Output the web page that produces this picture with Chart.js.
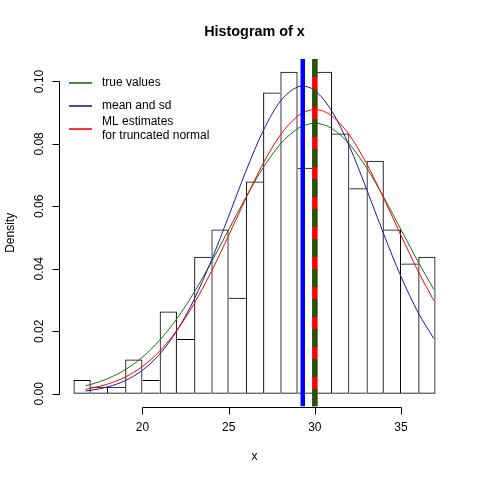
<!DOCTYPE html>
<html>
<head>
<meta charset="utf-8">
<title>Histogram of x</title>
<script src="https://cdn.jsdelivr.net/npm/chart.js@4.4.1/dist/chart.umd.min.js"></script>
<style>
  html, body { margin: 0; padding: 0; background: #fff; }
  #wrap { width: 480px; height: 480px; }
</style>
</head>
<body>
<div id="wrap"><canvas id="hist" width="480" height="480"></canvas></div>
<script>
// histogram: left edge of each bin (width 1) and its density
const binStart = [16, 17, 18, 19, 20, 21, 22, 23, 24, 25, 26, 27, 28, 29, 30, 31, 32, 33, 34, 35, 36];
const density  = [0.0044, 0.0022, 0.0022, 0.0110, 0.0044, 0.0263, 0.0175, 0.0439, 0.0526, 0.0307, 0.0680,
                  0.0965, 0.1031, 0.0724, 0.1031, 0.0833, 0.0658, 0.0746, 0.0526, 0.0417, 0.0439];

// the three density curves, read at these x positions
const curveX    = [16.7, 17, 18, 19, 20, 21, 22, 23, 24, 25, 26, 27, 28, 29, 29.3, 30, 31, 32, 33, 34, 35, 36, 36.9];
const trueCurve = [0.00252, 0.00295, 0.00486, 0.00770, 0.01172, 0.01714, 0.02408, 0.03250, 0.04216, 0.05253, 0.06288,
                   0.07234, 0.07994, 0.08489, 0.08575, 0.08660, 0.08489, 0.07994, 0.07234, 0.06288, 0.05253, 0.04216, 0.03342];
const sdCurve   = [0.00088, 0.00109, 0.00221, 0.00420, 0.00752, 0.01269, 0.02019, 0.03025, 0.04271, 0.05683, 0.07125,
                   0.08416, 0.09367, 0.09824, 0.09850, 0.09707, 0.09039, 0.07930, 0.06556, 0.05106, 0.03747, 0.02592, 0.01767];
const mlCurve   = [0.00144, 0.00174, 0.00312, 0.00534, 0.00874, 0.01365, 0.02032, 0.02888, 0.03916, 0.05067, 0.06256,
                   0.07370, 0.08286, 0.08889, 0.08996, 0.09100, 0.08889, 0.08286, 0.07370, 0.06256, 0.05067, 0.03916, 0.02983];

// vertical lines: sample mean, ML mean, true mean
const sampleMean = [29.3];
const mlMean     = [30];
const trueMean   = [30];

// axes
const xTicks = [20, 25, 30, 35];
const yTicks = [0, 0.02, 0.04, 0.06, 0.08, 0.10];
const xRange = [15.16, 37.84];
const yRange = [-0.00412, 0.10719];

const FONT = '"Liberation Sans", Arial, Helvetica, sans-serif';
const GREEN = '#1a6e1a';
const NAVY = '#1c1c9a';

const pts = (xs, ys) => xs.map((x, i) => ({ x, y: ys[i] }));
const vline = x => [{ x, y: yRange[1] }, { x, y: yRange[0] }];

// R-style axes, title, labels and legend
const rDecor = {
  id: 'rDecor',
  afterDraw(chart) {
    const { ctx, chartArea: a, scales: { x, y } } = chart;
    ctx.save();
    ctx.strokeStyle = '#000';
    ctx.fillStyle = '#000';
    ctx.lineWidth = 1;
    ctx.setLineDash([]);

    // x axis
    const yb = Math.round(a.bottom) + 0.5;
    ctx.beginPath();
    ctx.moveTo(Math.round(x.getPixelForValue(xTicks[0])) + 0.5, yb);
    ctx.lineTo(Math.round(x.getPixelForValue(xTicks[xTicks.length - 1])) + 0.5, yb);
    xTicks.forEach(v => {
      const px = Math.round(x.getPixelForValue(v)) + 0.5;
      ctx.moveTo(px, yb);
      ctx.lineTo(px, yb + 7);
    });
    ctx.stroke();
    ctx.font = '12px ' + FONT;
    ctx.textAlign = 'center';
    ctx.textBaseline = 'middle';
    xTicks.forEach(v => ctx.fillText(String(v), x.getPixelForValue(v), 428));

    // y axis
    const xl = Math.round(a.left) + 0.5;
    ctx.beginPath();
    ctx.moveTo(xl, Math.round(y.getPixelForValue(yTicks[0])) + 0.5);
    ctx.lineTo(xl, Math.round(y.getPixelForValue(yTicks[yTicks.length - 1])) + 0.5);
    yTicks.forEach(v => {
      const py = Math.round(y.getPixelForValue(v)) + 0.5;
      ctx.moveTo(xl, py);
      ctx.lineTo(xl - 7, py);
    });
    ctx.stroke();
    yTicks.forEach(v => {
      ctx.save();
      ctx.translate(40, y.getPixelForValue(v));
      ctx.rotate(-Math.PI / 2);
      ctx.fillText(v.toFixed(2), 0, 0);
      ctx.restore();
    });

    // axis titles
    ctx.fillText('x', (a.left + a.right) / 2, 457);
    ctx.save();
    ctx.translate(11, (a.top + a.bottom) / 2);
    ctx.rotate(-Math.PI / 2);
    ctx.fillText('Density', 0, 0);
    ctx.restore();

    // main title
    ctx.font = 'bold 14.4px ' + FONT;
    ctx.fillText('Histogram of x', (a.left + a.right) / 2, 32);

    // legend (no box)
    ctx.font = '12px ' + FONT;
    ctx.textAlign = 'left';
    ctx.lineWidth = 1.6;
    const items = [
      { c: GREEN, ly: 83, text: ['true values'] },
      { c: NAVY, ly: 106, text: ['mean and sd'] },
      { c: '#ff0000', ly: 129, text: ['ML estimates', 'for truncated normal'] }
    ];
    items.forEach(it => {
      ctx.beginPath();
      ctx.strokeStyle = it.c;
      ctx.moveTo(69, it.ly);
      ctx.lineTo(92, it.ly);
      ctx.stroke();
      const t0 = it.ly - (it.text.length - 1) * 7;
      it.text.forEach((t, k) => ctx.fillText(t, 102, t0 + k * 14));
    });
    ctx.restore();
  }
};

function barBorder(c) {
  const i = c.dataIndex;
  const h = density[i];
  const prev = i > 0 ? density[i - 1] : -1;
  const next = i < density.length - 1 ? density[i + 1] : -1;
  return { top: 1, bottom: 1, left: h > prev ? 1 : 0, right: h >= next ? 1 : 0 };
}

const curve = (data, color, order) => ({
  type: 'line', data, order,
  borderColor: color, borderWidth: 1,
  pointRadius: 0, cubicInterpolationMode: 'monotone', fill: false
});

new Chart(document.getElementById('hist'), {
  type: 'bar',
  data: {
    datasets: [
      {
        type: 'bar', order: 6,
        data: binStart.map((b, i) => ({ x: b + 0.5, y: density[i] })),
        backgroundColor: 'rgba(255,255,255,0)',
        borderColor: '#000',
        borderWidth: barBorder,
        borderSkipped: false,
        inflateAmount: 0,
        barPercentage: 1,
        categoryPercentage: 1
      },
      curve(pts(curveX, trueCurve), GREEN, 5),
      curve(pts(curveX, sdCurve), NAVY, 4),
      curve(pts(curveX, mlCurve), '#ff0000', 3),
      { type: 'line', order: 2, data: vline(sampleMean[0]), borderColor: '#0000ff', borderWidth: 4.5, pointRadius: 0 },
      { type: 'line', order: 1, data: vline(mlMean[0]), borderColor: '#ff0000', borderWidth: 5.5, pointRadius: 0 },
      { type: 'line', order: 0, data: vline(trueMean[0]), borderColor: '#0f5f0f', borderWidth: 5, borderDash: [18, 12], pointRadius: 0 }
    ]
  },
  options: {
    responsive: false,
    animation: false,
    layout: { padding: { left: 59, right: 30, top: 59, bottom: 73.4 } },
    plugins: { legend: { display: false }, tooltip: { enabled: false }, title: { display: false } },
    scales: {
      x: {
        type: 'linear', display: false, offset: false, min: xRange[0], max: xRange[1],
        afterBuildTicks: s => { s.ticks = xTicks.map(value => ({ value })); }
      },
      y: {
        type: 'linear', display: false, min: yRange[0], max: yRange[1],
        afterBuildTicks: s => { s.ticks = yTicks.map(value => ({ value })); }
      }
    }
  },
  plugins: [rDecor]
});
</script>
</body>
</html>
